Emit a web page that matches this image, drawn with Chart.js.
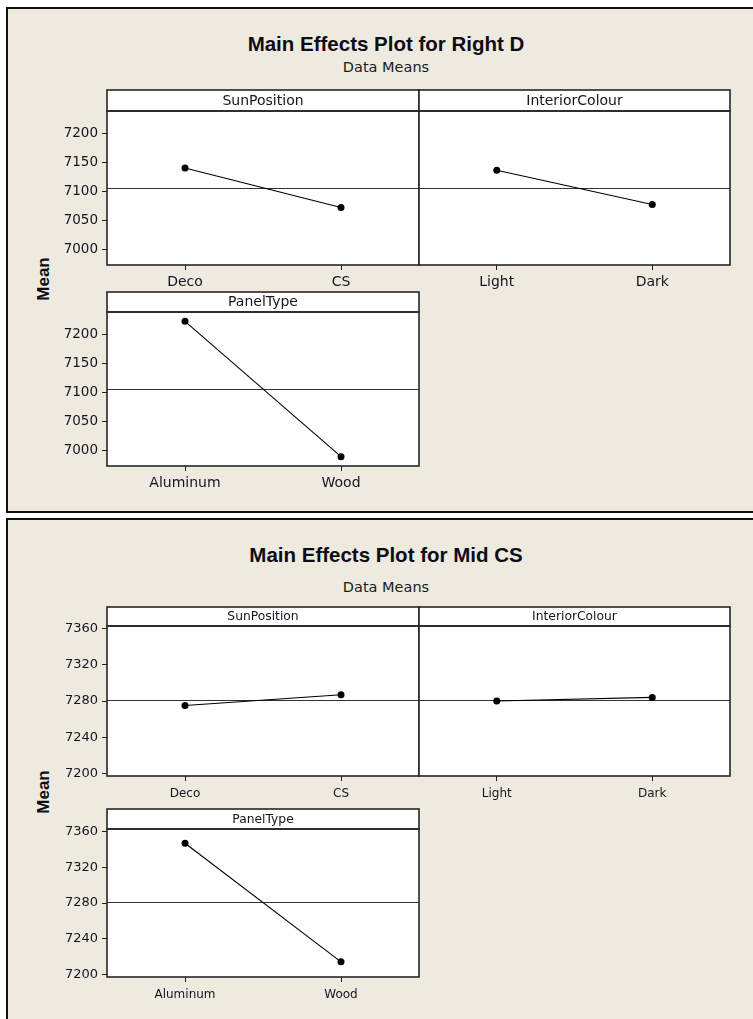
<!DOCTYPE html>
<html>
<head>
<meta charset="utf-8">
<title>Main Effects Plots</title>
<script src="https://cdn.jsdelivr.net/npm/chart.js@4.4.1/dist/chart.umd.min.js"></script>
<style>
  html, body { margin: 0; padding: 0; background: #ffffff; }
  body { position: relative; width: 753px; height: 1019px; overflow: hidden; font-family: "DejaVu Sans", sans-serif; color: #111; }
  .frame { position: absolute; left: 6px; width: 820px; background: #eeeae0; border: 2px solid #111; box-sizing: border-box; }
  .title { position: absolute; left: 0; width: 772px; text-align: center; white-space: nowrap;
           font-family: "Liberation Sans", Arial, sans-serif; font-weight: bold; font-size: 20.5px; line-height: 20.5px; color: #0d0d14; }
  .subtitle { position: absolute; left: 0; width: 772px; text-align: center; white-space: nowrap;
              font-family: "DejaVu Sans", sans-serif; font-size: 14.5px; line-height: 14.5px; color: #1a1a24; }
  .ylab { position: absolute; font-family: "Liberation Sans", Arial, sans-serif; font-weight: bold; font-size: 17px; line-height: 17px;
          transform: translate(-50%, -50%) rotate(-90deg); white-space: nowrap; color: #0d0d14; }
  canvas { position: absolute; }
</style>
</head>
<body>
<div class="frame" style="top:7px; height:506px;"></div>
<div class="frame" style="top:518px; height:540px;"></div>

<div class="title" style="top:34px;">Main Effects Plot for Right D</div>
<div class="subtitle" style="top:60px;">Data Means</div>
<div class="ylab" style="left:43px; top:279px;">Mean</div>

<div class="title" style="top:545px;">Main Effects Plot for Mid CS</div>
<div class="subtitle" style="top:580px;">Data Means</div>
<div class="ylab" style="left:43px; top:792px;">Mean</div>

<script>
// Factor levels
const sunLevels = ['Deco', 'CS'];
const interiorLevels = ['Light', 'Dark'];
const panelLevels = ['Aluminum', 'Wood'];

// Response: Right D (level means)
const rightDSun = [7140, 7072];
const rightDInterior = [7136, 7077];
const rightDPanel = [7222, 6989];
const rightDMean = 7106;
const rightDTicks = [7000, 7050, 7100, 7150, 7200];
const rightDRange = [6973, 7238];

// Response: Mid CS (level means)
const midCSSun = [7275, 7287];
const midCSInterior = [7280, 7284];
const midCSPanel = [7347, 7214];
const midCSMean = 7281;
const midCSTicks = [7200, 7240, 7280, 7320, 7360];
const midCSRange = [7197, 7363];

Chart.defaults.font.family = "'DejaVu Sans', sans-serif";
Chart.defaults.color = '#15151f';

const AXIS_W = 100;   // room left of each plot for the value axis
const AXIS_H = 32;    // room below each plot for the level labels
const TOP_PAD = 4;

// Header strip, white plot area, grand-mean line and frame for one facet
function facetPlugin(title, meanValue, headerH, headFont) {
  return {
    id: 'facetFrame',
    beforeDraw(chart) {
      const { ctx, chartArea: a } = chart;
      ctx.save();
      ctx.fillStyle = '#ffffff';
      ctx.fillRect(a.left, a.top - headerH, a.right - a.left, a.bottom - a.top + headerH);
      ctx.restore();
    },
    beforeDatasetsDraw(chart) {
      const { ctx, chartArea: a, scales } = chart;
      const y = Math.round(scales.y.getPixelForValue(meanValue)) + 0.5;
      ctx.save();
      ctx.strokeStyle = '#333333';
      ctx.lineWidth = 1;
      ctx.beginPath();
      ctx.moveTo(a.left, y);
      ctx.lineTo(a.right, y);
      ctx.stroke();
      ctx.restore();
    },
    afterDraw(chart) {
      const { ctx, chartArea: a } = chart;
      ctx.save();
      ctx.strokeStyle = '#262626';
      ctx.lineWidth = 1.6;
      ctx.strokeRect(a.left, a.top, a.right - a.left, a.bottom - a.top);
      ctx.strokeRect(a.left, a.top - headerH, a.right - a.left, headerH);
      ctx.fillStyle = '#15151f';
      ctx.font = headFont + "px 'DejaVu Sans', sans-serif";
      ctx.textAlign = 'center';
      ctx.textBaseline = 'middle';
      ctx.fillText(title, (a.left + a.right) / 2, a.top - headerH / 2 + 0.5);
      ctx.restore();
    }
  };
}

function makeFacet(geo, title, levels, values, meanValue, range, tickValues, showY, fonts) {
  const canvas = document.createElement('canvas');
  const w = geo.r - geo.l + AXIS_W + 6;
  const h = geo.bottom - geo.head + TOP_PAD + AXIS_H;
  canvas.width = w;
  canvas.height = h;
  canvas.style.width = w + 'px';
  canvas.style.height = h + 'px';
  canvas.style.left = (geo.l - AXIS_W) + 'px';
  canvas.style.top = (geo.head - TOP_PAD) + 'px';
  document.body.appendChild(canvas);
  const headerH = geo.top - geo.head;

  new Chart(canvas, {
    type: 'line',
    data: {
      labels: levels,
      datasets: [{
        data: values,
        borderColor: '#000000',
        borderWidth: 1.1,
        pointRadius: 3.5,
        pointBackgroundColor: '#000000',
        pointBorderWidth: 0,
        tension: 0,
        clip: false
      }]
    },
    options: {
      responsive: false,
      animation: false,
      devicePixelRatio: 1,
      events: [],
      layout: { padding: { top: headerH + TOP_PAD, left: 0, right: 6, bottom: 0 } },
      plugins: { legend: { display: false }, tooltip: { enabled: false }, title: { display: false } },
      scales: {
        x: {
          type: 'category',
          offset: true,
          border: { display: false },
          grid: { display: true, drawOnChartArea: false, drawTicks: true, tickLength: 5, color: '#222', lineWidth: 1 },
          ticks: { font: { size: fonts.cat }, color: '#15151f', padding: fonts.catPad, maxRotation: 0, autoSkip: false },
          afterFit(scale) { scale.height = AXIS_H; scale.paddingLeft = 0; scale.paddingRight = 0; }
        },
        y: {
          type: 'linear',
          min: range[0],
          max: range[1],
          border: { display: false },
          grid: { display: showY, drawOnChartArea: false, drawTicks: true, tickLength: 5, color: '#222', lineWidth: 1 },
          ticks: { display: showY, font: { size: fonts.tick }, color: '#15151f', padding: 4, callback: (v) => String(v) },
          afterBuildTicks(scale) { scale.ticks = tickValues.map((v) => ({ value: v })); },
          afterFit(scale) { scale.width = AXIS_W; scale.paddingTop = 0; scale.paddingBottom = 0; }
        }
      }
    },
    plugins: [facetPlugin(title, meanValue, headerH, fonts.head)]
  });
}

// Right D facets
const fontsRightD = { tick: 13.5, cat: 14, catPad: 4, head: 14 };
makeFacet({ l: 107, r: 419, head: 90, top: 111, bottom: 265 }, 'SunPosition', sunLevels, rightDSun,
          rightDMean, rightDRange, rightDTicks, true, fontsRightD);
makeFacet({ l: 419, r: 730, head: 90, top: 111, bottom: 265 }, 'InteriorColour', interiorLevels, rightDInterior,
          rightDMean, rightDRange, rightDTicks, false, fontsRightD);
makeFacet({ l: 107, r: 419, head: 292, top: 312, bottom: 466 }, 'PanelType', panelLevels, rightDPanel,
          rightDMean, rightDRange, rightDTicks, true, fontsRightD);

// Mid CS facets
const fontsMidCS = { tick: 13, cat: 12, catPad: 6, head: 12.3 };
makeFacet({ l: 107, r: 419, head: 607, top: 626, bottom: 776 }, 'SunPosition', sunLevels, midCSSun,
          midCSMean, midCSRange, midCSTicks, true, fontsMidCS);
makeFacet({ l: 419, r: 730, head: 607, top: 626, bottom: 776 }, 'InteriorColour', interiorLevels, midCSInterior,
          midCSMean, midCSRange, midCSTicks, false, fontsMidCS);
makeFacet({ l: 107, r: 419, head: 809, top: 829, bottom: 977 }, 'PanelType', panelLevels, midCSPanel,
          midCSMean, midCSRange, midCSTicks, true, fontsMidCS);
</script>
</body>
</html>
